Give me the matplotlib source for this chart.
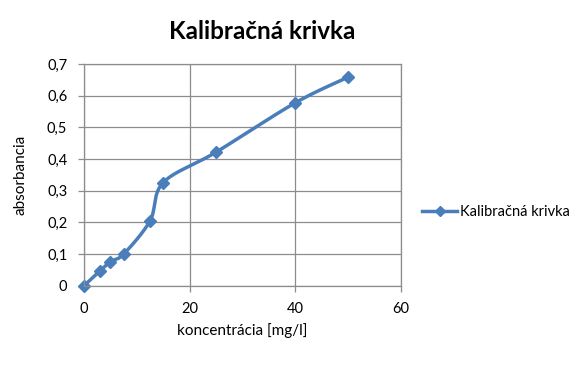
import numpy as np
import matplotlib.pyplot as plt

# Calibration data
koncentracia = [0, 3, 5, 7.5, 12.5, 15, 25, 40, 50]
absorbancia = [0, 0.046, 0.076, 0.100, 0.205, 0.326, 0.422, 0.578, 0.659]
x_ticks = [0, 20, 40, 60]
y_ticks = [0, 0.1, 0.2, 0.3, 0.4, 0.5, 0.6, 0.7]
y_labels = ['0', '0,1', '0,2', '0,3', '0,4', '0,5', '0,6', '0,7']

plt.rcParams['font.family'] = ['Lato', 'DejaVu Sans']


# Excel-like smoothed line (cubic Bezier through the points)
def smooth_curve(xs, ys, n=40):
    pts = np.column_stack([xs, ys]).astype(float)
    out = [pts[0]]
    for i in range(len(pts) - 1):
        p0 = pts[i - 1] if i > 0 else pts[i]
        p1 = pts[i]
        p2 = pts[i + 1]
        p3 = pts[i + 2] if i + 2 < len(pts) else pts[i + 1]
        c1 = p1 + (p2 - p0) / 6
        c2 = p2 - (p3 - p1) / 6
        t = np.linspace(0, 1, n)[1:, None]
        seg = ((1 - t) ** 3) * p1 + 3 * ((1 - t) ** 2) * t * c1 \
            + 3 * (1 - t) * t ** 2 * c2 + t ** 3 * p2
        out.extend(seg)
    out = np.array(out)
    return out[:, 0], out[:, 1]


fig = plt.figure(figsize=(5.83, 3.75), dpi=100)
ax = fig.add_axes([0.144, 0.238, 0.544, 0.591])

color = '#4A7EBB'
sx, sy = smooth_curve(koncentracia, absorbancia)
ax.plot(sx, sy, color=color, linewidth=2.5, solid_capstyle='round',
        clip_on=False)
ax.plot(koncentracia, absorbancia, linestyle='none', marker='D',
        markersize=6, color=color, clip_on=False)
line_proxy, = ax.plot([], [], color=color, linewidth=2.5, marker='D',
                      markersize=5, label='Kalibračná krivka')

ax.set_xlim(0, 60)
ax.set_ylim(0, 0.7)
ax.set_xticks(x_ticks)
ax.set_yticks(y_ticks)
ax.set_yticklabels(y_labels)
ax.grid(True, color='#8c8c8c', linewidth=0.9)
ax.set_axisbelow(True)
for s in ax.spines.values():
    s.set_color('#8c8c8c')
    s.set_linewidth(0.9)
ax.tick_params(axis='both', colors='#8c8c8c', length=4, width=0.9,
               labelcolor='black', labelsize=10.5)
ax.tick_params(axis='x', pad=8)
ax.tick_params(axis='y', pad=8)

ax.set_xlabel('koncentrácia [mg/l]', fontsize=11, labelpad=5)
ax.set_ylabel('absorbancia', fontsize=11, labelpad=14)
fig.text(0.449, 0.917, 'Kalibračná krivka', ha='center', va='center',
         fontsize=17.5, fontweight='bold')

fig.legend(handles=[line_proxy], loc='center left',
           bbox_to_anchor=(0.702, 0.435), frameon=False, fontsize=10.5,
           handlelength=2.4, handletextpad=0.2)

plt.savefig('out.png', dpi=100)
